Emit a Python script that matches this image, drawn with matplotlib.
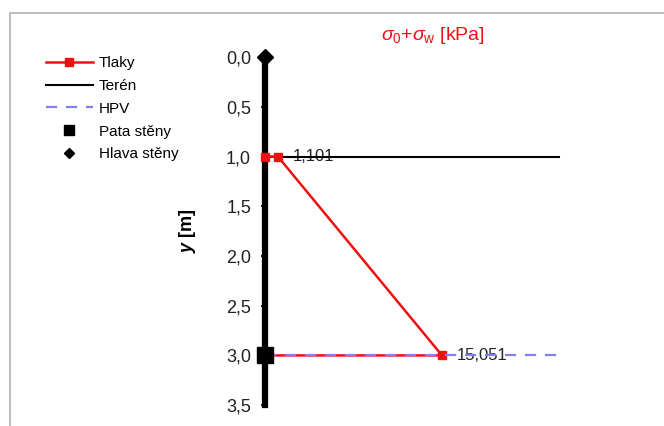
import matplotlib
matplotlib.use("Agg")
import matplotlib.pyplot as plt
from matplotlib.patches import Rectangle
from matplotlib.ticker import FuncFormatter

plt.rcParams['font.family'] = ['Liberation Sans', 'DejaVu Sans']
plt.rcParams['mathtext.fontset'] = 'custom'
plt.rcParams['mathtext.rm'] = 'Liberation Sans'
plt.rcParams['mathtext.it'] = 'Liberation Sans:italic'
plt.rcParams['mathtext.bf'] = 'Liberation Sans:bold:italic'

# data
tlaky_x = [0, 1.101, 15.051, 0]
tlaky_y = [1.0, 1.0, 3.0, 3.0]
teren_x = [0, 25]
teren_y = [1.0, 1.0]
hpv_x = [0, 25]
hpv_y = [3.0, 3.0]
wall_x = [0, 0]
wall_y = [0.0, 3.5]
pata = (0, 3.0)
hlava = (0, 0.0)
labels = [(1.101, 1.0, "1,101"), (15.051, 3.0, "15,051")]
yticks = [0, 0.5, 1.0, 1.5, 2.0, 2.5, 3.0, 3.5]

fig = plt.figure(figsize=(6.64, 4.26), dpi=100)
fig.patches.append(Rectangle((10 / 664, -0.1), 1.0, 1 - 13 / 426 + 0.1,
                             transform=fig.transFigure, fill=False,
                             edgecolor='#b0b0b0', lw=1.2))
ax = fig.add_axes([0.399, 0.049, 0.496, 0.817])

ax.plot(wall_x, wall_y, color='black', lw=4.5, zorder=2, clip_on=False)
l_tlaky, = ax.plot(tlaky_x, tlaky_y, color='#ee1111', lw=1.8, marker='s',
                   markersize=6, zorder=3, clip_on=False, label='Tlaky')
l_teren, = ax.plot(teren_x, teren_y, color='black', lw=1.5, zorder=2, label='Terén')
l_hpv, = ax.plot(hpv_x, hpv_y, color='#8080ee', lw=1.6, ls=(0, (5, 4)),
                 zorder=4, label='HPV')
l_pata, = ax.plot([pata[0]], [pata[1]], ls='none', marker='s', markersize=11,
                  color='black', zorder=5, clip_on=False, label='Pata stěny')
l_hlava, = ax.plot([hlava[0]], [hlava[1]], ls='none', marker='D', markersize=8,
                   color='black', zorder=5, clip_on=False, label='Hlava stěny')

for x, y, s in labels:
    ax.annotate(s, (x, y), xytext=(11, 0), textcoords='offset points',
                va='center', ha='left', fontsize=12, color='#222222', zorder=1)

ax.set_xlim(0, 28)
ax.set_ylim(3.5, 0)
ax.set_yticks(yticks)
ax.yaxis.set_major_formatter(FuncFormatter(lambda v, p: f"{v:.1f}".replace('.', ',')))
ax.tick_params(axis='y', labelsize=13, length=3, width=1.5, pad=7, colors='#222222')
ax.set_xticks([])
for s in ['top', 'right', 'bottom']:
    ax.spines[s].set_visible(False)
ax.spines['left'].set_linewidth(1.5)
ax.set_ylabel(r'$\mathbf{y}$ [m]', fontsize=13, fontweight='bold', labelpad=20)
ax.set_title(r'$\sigma_0$+$\sigma_\mathrm{w}$ [kPa]', color='#ee1111',
             fontsize=14, pad=12, x=0.51)

leg = fig.legend(handles=[l_tlaky, l_teren, l_hpv, l_pata, l_hlava],
                 loc='upper left', bbox_to_anchor=(0.060, 0.882), frameon=False,
                 fontsize=11, handlelength=3.05, handletextpad=0.4,
                 labelspacing=0.57, borderaxespad=0)
handles = leg.legend_handles
handles[3].set_markersize(7)
handles[4].set_markersize(5.5)

fig.savefig('out.png', dpi=100)
